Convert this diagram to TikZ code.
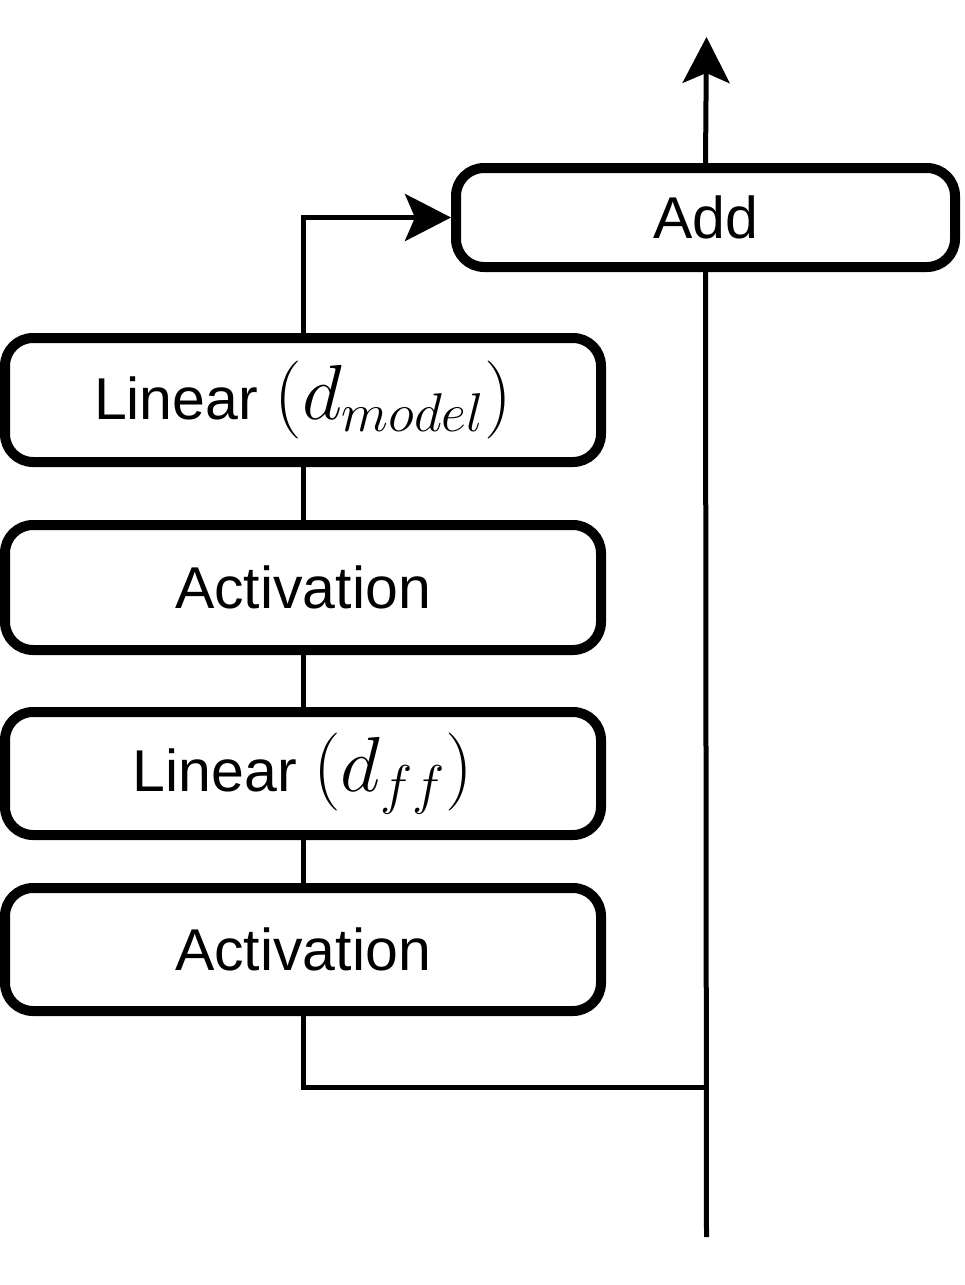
\documentclass[tikz,border=0pt]{standalone}
\usepackage{fix-cm}
\usepackage{fontspec}
\setmainfont{Liberation Sans}
\usetikzlibrary{arrows.meta,positioning}
\newcommand{\dimlabel}[1]{{\fontsize{78}{90}\selectfont$(d_{#1})$}}

\begin{document}
\begin{tikzpicture}[x=1pt, y=-1pt,
    block/.style={draw=black, line width=10pt, rounded corners=28pt, minimum width=596pt,
        minimum height=124pt, inner sep=0pt, font=\fontsize{59}{70}\selectfont},
    wire/.style={line width=5pt},
    tip/.style={-{Stealth[length=46pt,width=47pt,inset=10pt]}}]
    \useasboundingbox (0,0) rectangle (965,1285);
    % residual add
    \node[block, minimum width=499pt, minimum height=99pt] (add) at (705.5,217.5) {Add};
    % feed forward stack
    \node[block] (linmodel) at (303,400) {Linear \dimlabel{model}};
    \node[block, minimum height=125pt] (act1) at (303,587.5) {Activation};
    \node[block, minimum height=123pt] (linff) at (303,773.5) {Linear \dimlabel{ff}};
    \node[block, minimum height=123pt] (act2) at (303,949.5) {Activation};
    \coordinate (in) at (706.5,1237);
    \coordinate (split) at (706.5,1087);
    \coordinate (out) at (706.5,37);
    \draw[wire] (in) -- (add.south);
    \draw[wire, tip] (add.north) -- (out);
    \draw[wire] (split) -| (act2.south);
    \draw[wire] (act2.north) -- (linff.south);
    \draw[wire] (linff.north) -- (act1.south);
    \draw[wire] (act1.north) -- (linmodel.south);
    \draw[wire, tip] (linmodel.north) |- (add.west);
\end{tikzpicture}
\end{document}
